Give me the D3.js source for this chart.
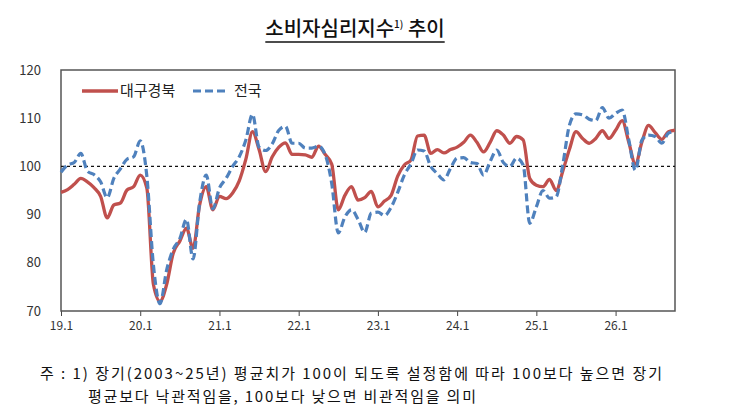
<!DOCTYPE html>
<html>
<head>
<meta charset="utf-8">
<script src="https://cdn.jsdelivr.net/npm/d3@7"></script>
<style>
  body { margin: 0; background: #fff; }
  text { font-family: "Noto Sans CJK KR", "Noto Sans", sans-serif; }
</style>
</head>
<body>
<div id="chart"></div>
<script>
// monthly index, 19.1 ... 26.10
const daeguValues = [
  94.6, 95.2, 96.3, 97.5, 96.8, 95.6, 93.8, 89.3, 92.0, 92.4, 95.1, 95.8,
  98.2, 95.5, 75.5, 72.0, 75.5, 82.0, 84.5, 87.2, 83.0, 92.0, 95.8, 91.0,
  93.8, 93.3, 94.5, 97.0, 101.5, 107.2, 103.5, 98.9, 102.0, 104.0, 104.9, 102.5,
  102.5, 102.4, 101.9, 104.2, 102.5, 100.5, 91.0, 94.0, 95.8, 93.0, 93.5, 94.8,
  91.6, 92.8, 94.0, 98.0, 100.3, 101.3, 106.3, 106.5, 102.7, 103.5, 102.8, 103.5,
  104.0, 105.0, 106.5, 105.0, 103.0, 105.0, 107.4, 106.5, 104.8, 106.2, 105.5, 97.5,
  96.1, 95.8, 97.3, 95.0, 99.0, 103.5, 107.2, 105.8, 104.8, 105.8, 107.4, 105.8,
  107.5, 109.5, 105.0, 100.5, 105.1, 108.5, 107.0, 105.6, 107.2, 107.5
];
const nationValues = [
  98.8, 100.3, 100.8, 102.7, 99.0, 98.3, 96.8, 93.5, 97.5, 99.5, 101.5, 102.0,
  105.3, 98.0, 79.5, 71.5, 78.5, 82.8, 85.0, 89.0, 80.8, 92.5, 98.2, 91.2,
  95.5, 97.5, 100.0, 102.0, 105.5, 110.8, 104.0, 103.3, 104.7, 107.5, 108.3, 104.8,
  104.8, 103.8, 103.8, 104.2, 102.5, 96.5, 86.2, 89.5, 91.0, 89.0, 86.3, 90.3,
  90.5, 89.8, 91.5, 94.6, 98.2, 100.5, 103.4, 103.2, 100.0, 98.5, 97.2, 99.6,
  101.7, 101.8, 100.8, 100.6, 98.2, 101.0, 103.4, 100.8, 100.0, 101.7, 100.3, 88.2,
  91.6, 95.0, 93.4, 93.7, 100.3, 108.5, 110.9, 110.7, 109.8, 109.5, 112.2, 110.0,
  111.0, 111.7, 105.5, 99.2, 105.5, 106.5, 106.2, 104.8, 106.9, 107.3
];
const xTickIndex = [0, 12, 24, 36, 48, 60, 72, 84];
const xTickLabels = ["19.1", "20.1", "21.1", "22.1", "23.1", "24.1", "25.1", "26.1"];
const yTicks = [70, 80, 90, 100, 110, 120];
const seriesNames = ["대구경북", "전국"];
const baseLine = 100;

const W = 730, H = 410;
const plotLeft = 61, plotRight = 675, plotTop = 70, plotBottom = 311;

const svg = d3.select("#chart")
  .append("svg")
  .attr("width", W)
  .attr("height", H);

const x = d3.scaleLinear().domain([0, daeguValues.length - 1]).range([plotLeft, plotRight]);
const y = d3.scaleLinear().domain([70, 120]).range([plotBottom, plotTop]);

// title
const title = svg.append("text")
  .attr("x", 355).attr("y", 36)
  .attr("text-anchor", "middle")
  .style("font-size", "20px")
  .style("font-weight", 500)
  .style("fill", "#111");
title.append("tspan").text("소비자심리지수");
title.append("tspan").text("1)").attr("dy", -8).style("font-size", "10px");
title.append("tspan").text(" 추이").attr("dy", 8);
const tb = title.node().getBBox();
svg.append("line")
  .attr("x1", tb.x).attr("x2", tb.x + tb.width)
  .attr("y1", 42).attr("y2", 42)
  .style("stroke", "#111").style("stroke-width", 1.3);

// axes
svg.append("g")
  .attr("transform", "translate(0," + plotBottom + ")")
  .call(d3.axisBottom(x).tickValues(xTickIndex)
    .tickFormat((d, i) => xTickLabels[i]).tickSize(5).tickSizeOuter(0))
  .call(g => g.select(".domain").remove())
  .call(g => g.selectAll("line").style("stroke", "#444"))
  .call(g => g.selectAll("text").style("font-size", "12px").style("fill", "#333")
    .attr("dy", "0.9em"));

svg.append("g")
  .attr("transform", "translate(" + (plotLeft - 17) + ",0)")
  .call(d3.axisLeft(y).tickValues(yTicks).tickSize(0))
  .call(g => g.select(".domain").remove())
  .call(g => g.selectAll("text").style("font-size", "13px").style("fill", "#333"));

// frame
svg.append("rect")
  .attr("x", plotLeft).attr("y", plotTop)
  .attr("width", plotRight - plotLeft).attr("height", plotBottom - plotTop)
  .style("fill", "none").style("stroke", "#555").style("stroke-width", 1.5);

// 100 line
svg.append("line")
  .attr("x1", plotLeft).attr("x2", plotRight)
  .attr("y1", y(baseLine)).attr("y2", y(baseLine))
  .style("stroke", "#111").style("stroke-width", 1.2)
  .style("stroke-dasharray", "3,3");

const line = d3.line()
  .x((d, i) => x(i))
  .y(d => y(d))
  .curve(d3.curveMonotoneX);

svg.append("path")
  .datum(daeguValues)
  .attr("d", line)
  .style("fill", "none")
  .style("stroke", "#C0504D")
  .style("stroke-width", 3.3);

svg.append("path")
  .datum(nationValues)
  .attr("d", line)
  .style("fill", "none")
  .style("stroke", "#4F81BD")
  .style("stroke-width", 3.2)
  .style("stroke-dasharray", "8,4");

// legend
const lg = svg.append("g").attr("transform", "translate(82,91)");
lg.append("line").attr("x1", 0).attr("x2", 36).attr("y1", 0).attr("y2", 0)
  .style("stroke", "#C0504D").style("stroke-width", 3.3);
lg.append("text").attr("x", 38).attr("y", 5).text(seriesNames[0])
  .style("font-size", "15px").style("fill", "#222");
lg.append("line").attr("x1", 111).attr("x2", 146).attr("y1", 0).attr("y2", 0)
  .style("stroke", "#4F81BD").style("stroke-width", 3.2)
  .style("stroke-dasharray", "8,4");
lg.append("text").attr("x", 152).attr("y", 5).text(seriesNames[1])
  .style("font-size", "15px").style("fill", "#222");

// footnote
svg.append("text")
  .attr("x", 40).attr("y", 379)
  .attr("textLength", 622).attr("lengthAdjust", "spacing")
  .style("font-size", "15px").style("fill", "#111")
  .text("주 : 1) 장기(2003~25년) 평균치가 100이 되도록 설정함에 따라 100보다 높으면 장기");
svg.append("text")
  .attr("x", 88).attr("y", 402)
  .attr("textLength", 388).attr("lengthAdjust", "spacing")
  .style("font-size", "15px").style("fill", "#111")
  .text("평균보다 낙관적임을, 100보다 낮으면 비관적임을 의미");
</script>
</body>
</html>
